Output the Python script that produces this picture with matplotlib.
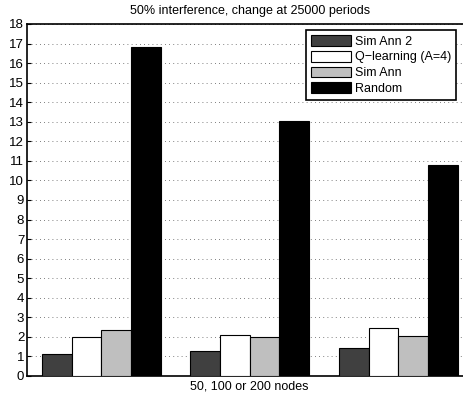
import numpy as np
import matplotlib.pyplot as plt

plt.rcParams['font.family'] = ['Liberation Sans', 'DejaVu Sans']

# data
groups = [1, 2, 3]
series = ['Sim Ann 2', 'Q\u2212learning (A=4)', 'Sim Ann', 'Random']
sim_ann2 = [1.15, 1.27, 1.45]
qlearn = [2.0, 2.1, 2.47]
sim_ann = [2.35, 1.97, 2.03]
random_ = [16.8, 13.05, 10.8]
colors = ['#404040', '#ffffff', '#bfbfbf', '#000000']
yticks = list(range(0, 19))

fig = plt.figure(figsize=(4.64, 3.98), dpi=100)
ax = fig.add_axes([27/464, 22/398, 445.5/464, 352/398])

width = 0.2
x = np.array(groups, dtype=float)
for i, (vals, name) in enumerate(zip([sim_ann2, qlearn, sim_ann, random_], series)):
    ax.bar(x + (i - 1.5)*width, vals, width, color=colors[i], edgecolor='k',
           linewidth=0.8, label=name, zorder=3)

ax.set_xlim(0.5, 3.5)
ax.set_ylim(0, 18)
ax.set_yticks(yticks)
ax.set_xticks([])
ax.yaxis.grid(True, linestyle=(0, (1, 4)), color='#555555', linewidth=0.6, zorder=0)
ax.tick_params(axis='y', direction='in', length=3, labelsize=9.5, pad=2)
for s in ax.spines.values():
    s.set_linewidth(1.2)

ax.set_title('50% interference, change at 25000 periods', fontsize=9, pad=7)
ax.set_xlabel('50, 100 or 200 nodes', fontsize=9, labelpad=3)

leg = ax.legend(loc='upper left', bbox_to_anchor=(279/445.5, 1 - 6/352),
                fontsize=9, fancybox=False, framealpha=1, edgecolor='k',
                handlelength=3.2, handleheight=0.95, labelspacing=0.25,
                borderpad=0.4, handletextpad=0.3, borderaxespad=0)
leg.get_frame().set_linewidth(1.2)

fig.savefig('out.png', dpi=100)
